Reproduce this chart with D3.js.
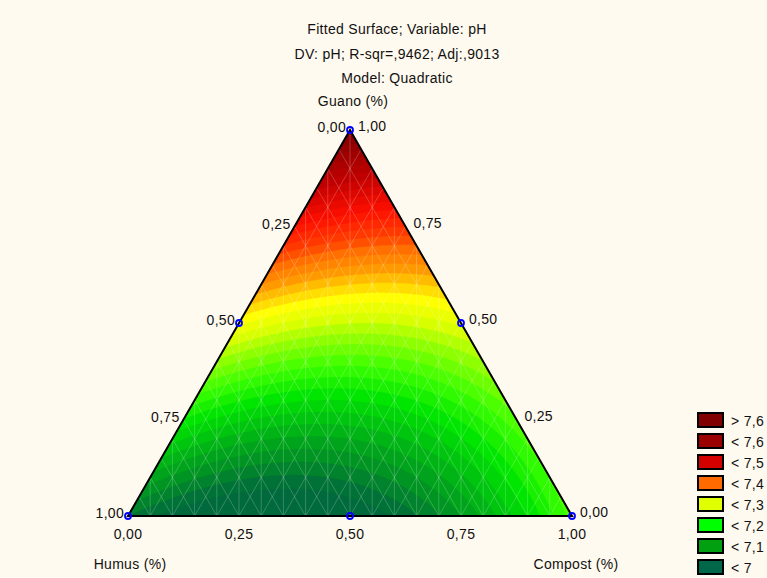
<!DOCTYPE html>
<html>
<head>
<meta charset="utf-8">
<script src="https://cdn.jsdelivr.net/npm/d3@7"></script>
<style>
body { margin: 0; background: #fffaef; }
text { font-family: "Liberation Sans", Arial, sans-serif; font-size: 14px; letter-spacing: 0.3px; fill: #111; }
</style>
</head>
<body>
<div id="chart-area"></div>
<script>
var width = 767;
var height = 578;

// Data
var titles = ["Fitted Surface; Variable: pH", "DV: pH; R-sqr=,9462; Adj:,9013", "Model: Quadratic"];
var axisTitles = ["Guano (%)", "Humus (%)", "Compost (%)"];
// quadratic mixture model, coefficients
var linearCoef = [7.70, 6.98, 7.17];    // Guano, Humus, Compost
var crossCoef = [-0.22, -0.68, -0.55];  // G*H, G*C, H*C
// design points (Guano, Humus, Compost)
var designG = [1, 0, 0, 0.5, 0.5, 0];
var designH = [0, 1, 0, 0.5, 0, 0.5];
var designC = [0, 0, 1, 0, 0.5, 0.5];
var tickValues = [0, 0.25, 0.5, 0.75, 1];
var tickLabels = ["0,00", "0,25", "0,50", "0,75", "1,00"];
var legendLabels = ["> 7,6", "< 7,6", "< 7,5", "< 7,4", "< 7,3", "< 7,2", "< 7,1", "< 7"];
var legendColors = ["#800000", "#9a0000", "#d40000", "#ff6a00", "#e0ff00", "#00ff00", "#00a010", "#006848"];
var surfaceStops = [6.96, 7.0, 7.055, 7.11, 7.16, 7.215, 7.25, 7.29, 7.32, 7.35, 7.39, 7.42, 7.48, 7.57, 7.68];
var surfaceColors = ["#006a3c", "#008c26", "#00b814", "#00e600", "#3cff00", "#96ff00", "#d8ff00", "#ffff00",
  "#ffcc00", "#ff9900", "#ff7000", "#ff4000", "#ff1000", "#c00000", "#880000"];
var bandStep = 0.02;

var svg = d3.select("#chart-area").append("svg").attr("width", width).attr("height", height);
svg.append("rect").attr("width", width).attr("height", height).attr("fill", "#fffaef");

// Scales
var x = d3.scaleLinear().domain([0, 1]).range([128, 572]);   // position along base
var y = d3.scaleLinear().domain([0, 1]).range([516, 130]);   // Guano height
var color = d3.scaleLinear().domain(surfaceStops).range(surfaceColors).clamp(true);

function pos(g, h, c) { return [x(c + g / 2), y(g)]; }
function model(g, h, c) {
  return linearCoef[0] * g + linearCoef[1] * h + linearCoef[2] * c +
    crossCoef[0] * g * h + crossCoef[1] * g * c + crossCoef[2] * h * c;
}

var corners = [pos(1, 0, 0), pos(0, 1, 0), pos(0, 0, 1)];
svg.append("clipPath").attr("id", "tri").append("path").attr("d", d3.line()(corners) + "Z");

// Surface grid
var step = 2, x0 = 116, y0 = 118;
var nx = Math.ceil((584 - x0) / step) + 1, ny = Math.ceil((528 - y0) / step) + 1;
var values = new Array(nx * ny);
for (var j = 0; j < ny; j++) {
  for (var i = 0; i < nx; i++) {
    var g = y.invert(y0 + j * step);
    var c = x.invert(x0 + i * step) - g / 2;
    values[j * nx + i] = model(g, 1 - g - c, c);
  }
}
var thresholds = d3.range(6.80, 7.80, bandStep);
var contours = d3.contours().size([nx, ny]).thresholds(thresholds)(values);
var proj = d3.geoTransform({point: function(a, b) {
  this.stream.point(x0 + (a - 0.5) * step, y0 + (b - 0.5) * step);
}});
var path = d3.geoPath(proj);

var surface = svg.append("g").attr("clip-path", "url(#tri)");
surface.append("path").attr("d", d3.line()(corners) + "Z").attr("fill", color(6.8));
surface.selectAll("path.band").data(contours).enter().append("path").attr("class", "band")
  .attr("d", path)
  .attr("fill", function(d) { return color(d.value + bandStep / 2); })
  .attr("stroke", function(d) { return color(d.value + bandStep / 2); })
  .attr("stroke-width", 0.3);

// mesh
var mesh = d3.range(1, 20).map(function(k) { return k / 20; });
var meshLines = [];
mesh.forEach(function(t) {
  meshLines.push([pos(0, 1 - t, t), pos(1 - t, 0, t)]);
  meshLines.push([pos(0, t, 1 - t), pos(1 - t, t, 0)]);
  var gTop = t <= 0.5 ? 2 * t : 2 * (1 - t);
  meshLines.push([[x(t), y(0)], [x(t), y(gTop)]]);
});
surface.selectAll("path.mesh").data(meshLines).enter().append("path").attr("class", "mesh")
  .attr("d", d3.line()).attr("stroke", "#ffffff").attr("stroke-opacity", 0.3).attr("stroke-width", 0.7)
  .attr("fill", "none");

// Frame
svg.append("path").attr("d", d3.line()(corners) + "Z").attr("fill", "none")
  .attr("stroke", "#000").attr("stroke-width", 2).attr("stroke-linejoin", "miter");

// Design points
svg.selectAll("circle.pt").data(designG).enter().append("circle").attr("class", "pt")
  .attr("cx", function(d, i) { return pos(designG[i], designH[i], designC[i])[0]; })
  .attr("cy", function(d, i) { return pos(designG[i], designH[i], designC[i])[1]; })
  .attr("r", 3).attr("fill", "none").attr("stroke", "#0000ff").attr("stroke-width", 1.8);

// Titles
svg.selectAll("text.title").data(titles).enter().append("text").attr("class", "title")
  .attr("x", 397).attr("y", function(d, i) { return 34 + i * 24.5; })
  .attr("text-anchor", "middle").text(function(d) { return d; });

// Axis labels
tickValues.forEach(function(t, i) {
  // Humus on left edge (0 at top)
  var pl = pos(1 - t, t, 0);
  svg.append("text").attr("x", pl[0] - 4).attr("y", pl[1] + 2).attr("text-anchor", "end").text(tickLabels[i]);
  // Guano on right edge (0 at bottom right)
  var pr = pos(t, 0, 1 - t);
  svg.append("text").attr("x", pr[0] + 8).attr("y", pr[1] + 1).attr("text-anchor", "start").text(tickLabels[i]);
  // Compost on base
  var pb = pos(0, 1 - t, t);
  svg.append("text").attr("x", pb[0]).attr("y", pb[1] + 23).attr("text-anchor", "middle").text(tickLabels[i]);
});
svg.append("text").attr("x", corners[0][0] + 3).attr("y", 106).attr("text-anchor", "middle").text(axisTitles[0]);
svg.append("text").attr("x", corners[1][0] + 2).attr("y", 569).attr("text-anchor", "middle").text(axisTitles[1]);
svg.append("text").attr("x", corners[2][0] + 4).attr("y", 569).attr("text-anchor", "middle").text(axisTitles[2]);

// Legend
var legend = svg.append("g").attr("transform", "translate(698, 413)");
legendLabels.forEach(function(lab, i) {
  var row = legend.append("g").attr("transform", "translate(0, " + (i * 21) + ")");
  row.append("rect").attr("width", 25).attr("height", 14).attr("fill", legendColors[i])
    .attr("stroke", "#000").attr("stroke-width", 2);
  row.append("text").attr("x", 33).attr("y", 13).text(lab);
});
</script>
</body>
</html>
